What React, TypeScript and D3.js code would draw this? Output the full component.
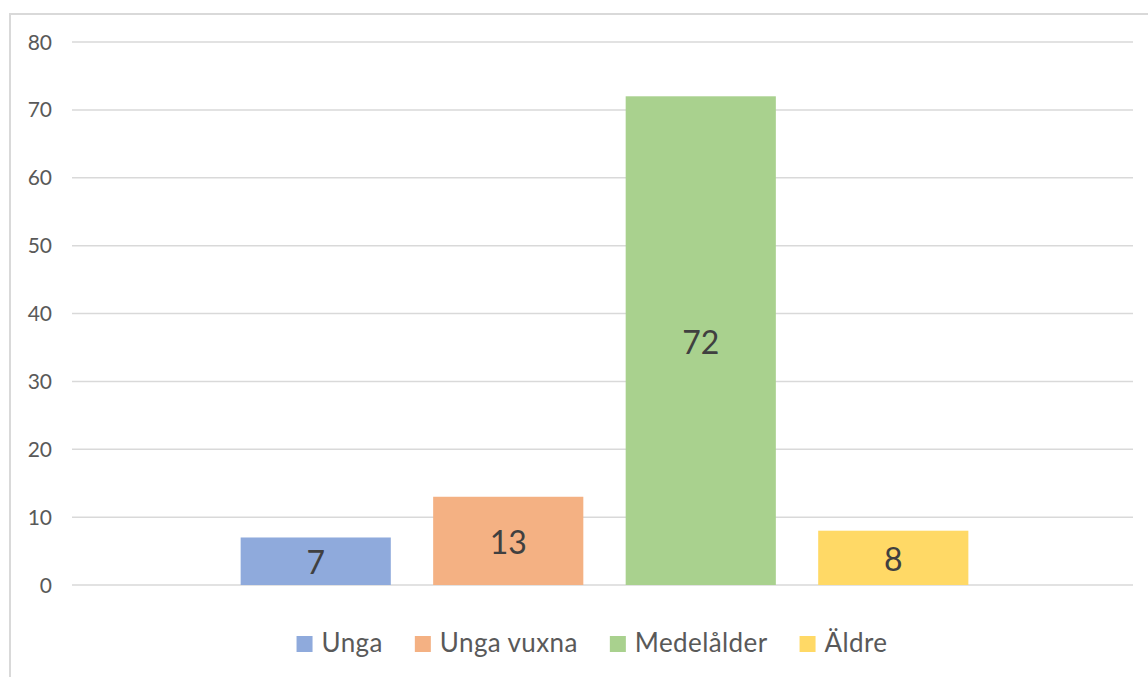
import React, { useEffect, useRef } from 'react';
import * as d3 from 'd3';

const seriesNames = ['Unga', 'Unga vuxna', 'Medelålder', 'Äldre'];
const seriesValues = [7, 13, 72, 8];
const seriesColors = ['#8faadc', '#f4b183', '#a9d18e', '#ffd966'];
const yTicks = [0, 10, 20, 30, 40, 50, 60, 70, 80];

const W = 1148;
const H = 677;
const FONT = 'Lato, "Open Sans", sans-serif';

export default function App() {
  const svgRef = useRef<SVGSVGElement>(null);

  useEffect(() => {
    if (!svgRef.current) return;
    const svg = d3.select(svgRef.current);
    svg.selectAll('*').remove();

    const plot = { left: 72, right: 1133, top: 42, bottom: 585 };

    // chart area border (cut off at right and bottom like the screenshot)
    svg.append('rect')
      .attr('x', 10).attr('y', 14)
      .attr('width', W + 20).attr('height', H + 20)
      .attr('fill', 'white')
      .attr('stroke', '#d9d9d9')
      .attr('stroke-width', 2);

    const y = d3.scaleLinear().domain([0, 80]).range([plot.bottom, plot.top]);

    // single category holding four series
    const cat = d3.scaleBand<string>()
      .domain(['all'])
      .range([plot.left + 2, plot.right + 2])
      .paddingOuter(0.229)
      .paddingInner(0);
    const groupStart = cat('all')!;
    const x = d3.scaleBand<string>()
      .domain(seriesNames)
      .range([groupStart, groupStart + cat.bandwidth()])
      .paddingInner(0.22)
      .paddingOuter(0);

    // gridlines
    svg.append('g')
      .selectAll('line')
      .data(yTicks)
      .join('line')
      .attr('x1', plot.left).attr('x2', plot.right)
      .attr('y1', d => y(d)).attr('y2', d => y(d))
      .attr('stroke', '#d9d9d9')
      .attr('stroke-width', 1.5);

    // y tick labels
    svg.append('g')
      .selectAll('text')
      .data(yTicks)
      .join('text')
      .attr('x', 52)
      .attr('y', d => y(d) + 7.5)
      .attr('text-anchor', 'end')
      .attr('font-family', FONT)
      .attr('font-size', 21)
      .attr('fill', '#595959')
      .text(d => d);

    // bars
    svg.append('g')
      .selectAll('rect')
      .data(seriesValues)
      .join('rect')
      .attr('x', (_, i) => x(seriesNames[i])!)
      .attr('y', d => y(d))
      .attr('width', x.bandwidth())
      .attr('height', d => y(0) - y(d))
      .attr('fill', (_, i) => seriesColors[i]);

    // data labels centred in bars
    svg.append('g')
      .selectAll('text')
      .data(seriesValues)
      .join('text')
      .attr('x', (_, i) => x(seriesNames[i])! + x.bandwidth() / 2)
      .attr('y', d => (y(d) + y(0)) / 2 + 13)
      .attr('text-anchor', 'middle')
      .attr('font-family', FONT)
      .attr('font-size', 32)
      .attr('fill', '#404040')
      .text(d => d);

    // legend, laid out from measured text widths
    const legend = svg.append('g');
    const sq = 16;
    const sqGap = 9;
    const itemGap = 32;
    const items = seriesNames.map((name, i) => {
      const g = legend.append('g');
      g.append('rect')
        .attr('width', sq).attr('height', sq)
        .attr('y', 636)
        .attr('fill', seriesColors[i]);
      const t = g.append('text')
        .attr('x', sq + sqGap)
        .attr('y', 652)
        .attr('font-family', FONT)
        .attr('font-size', 26)
        .attr('letter-spacing', 0.4)
        .attr('fill', '#595959')
        .text(name);
      const w = (t.node() as SVGTextElement).getComputedTextLength();
      return { g, w: sq + sqGap + w };
    });
    const total = d3.sum(items, d => d.w) + itemGap * (items.length - 1);
    let cx = 592 - total / 2;
    items.forEach(it => {
      it.g.attr('transform', `translate(${cx},0)`);
      cx += it.w + itemGap;
    });
  }, []);

  return (
    <svg
      ref={svgRef}
      width={W}
      height={H}
      style={{ position: 'absolute', left: 0, top: 0, background: 'white' }}
    />
  );
}
